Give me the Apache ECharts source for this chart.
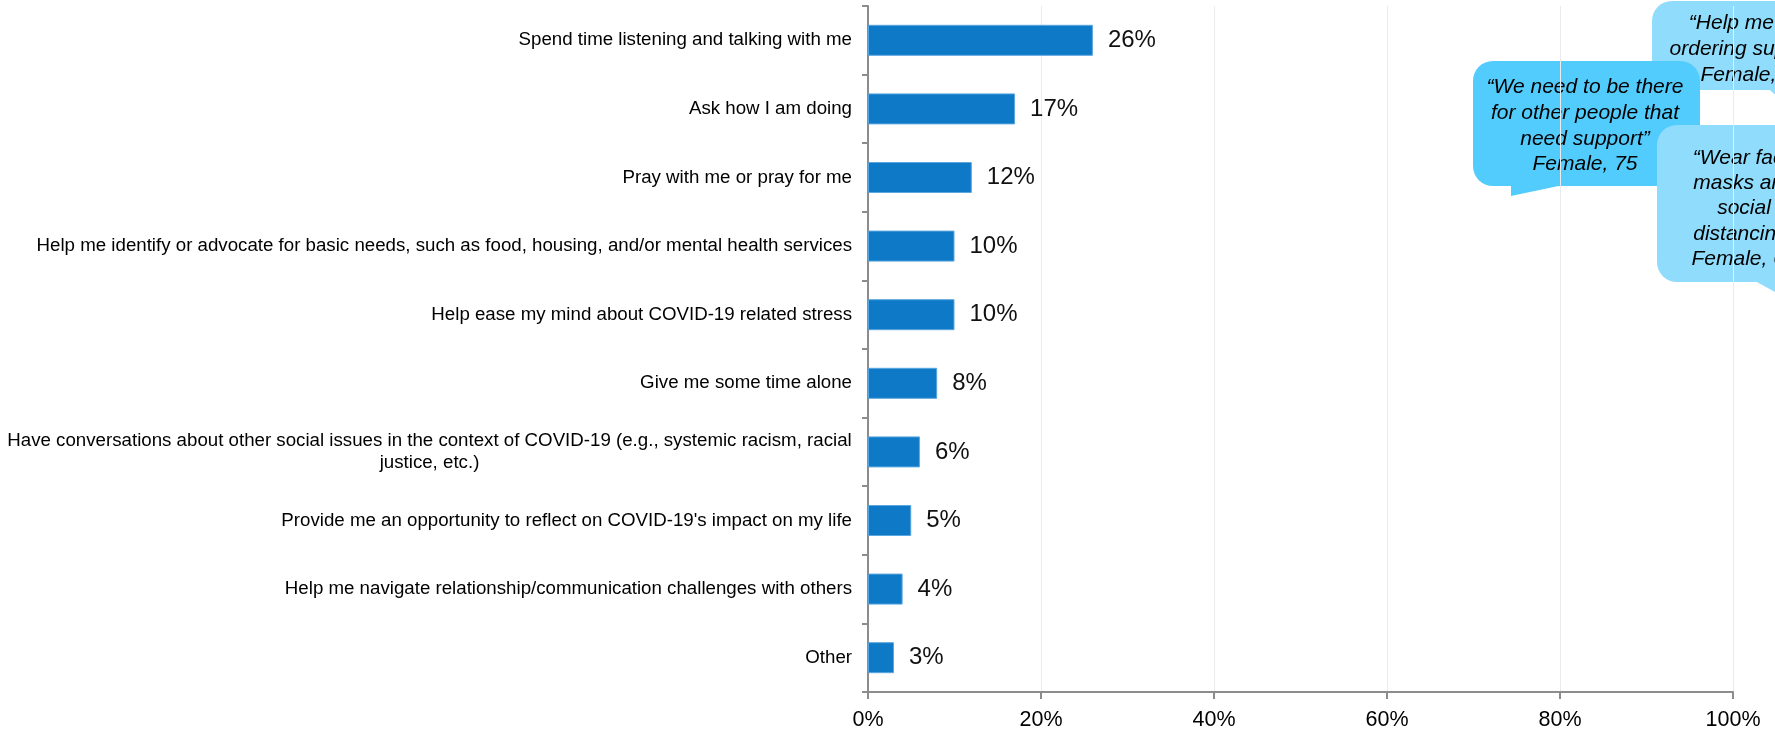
<!DOCTYPE html>
<html>
<head>
<meta charset="utf-8">
<script src="https://cdn.jsdelivr.net/npm/echarts@6/dist/echarts.min.js"></script>
<style>
html,body{margin:0;padding:0;background:#fff;}
#c{width:1775px;height:732px;}
</style>
</head>
<body>
<div id="c"></div>
<script>
const categories = [
  'Spend time listening and talking with me',
  'Ask how I am doing',
  'Pray with me or pray for me',
  'Help me identify or advocate for basic needs, such as food, housing, and/or mental health services',
  'Help ease my mind about COVID-19 related stress',
  'Give me some time alone',
  'Have conversations about other social issues in the context of COVID-19 (e.g., systemic racism, racial\njustice, etc.)',
  'Provide me an opportunity to reflect on COVID-19\'s impact on my life',
  'Help me navigate relationship/communication challenges with others',
  'Other'
];
const values = [26, 17, 12, 10, 10, 8, 6, 5, 4, 3];
const xTicks = [0, 20, 40, 60, 80, 100];

const quote1 = '\u201CHelp me with\nordering supplies\u201D\nFemale, 70';
const quote2 = '\u201CWe need to be there\nfor other people that\nneed support\u201D\nFemale, 75';
const quote3 = '\u201CWear face\nmasks and\nsocial\ndistancing\u201D\nFemale, 65';

const FONT = '"Liberation Sans", Arial, sans-serif';
const chart = echarts.init(document.getElementById('c'));

function bubble(rect, tail, color, text, cx, cy, lh) {
  return {
    type: 'group',
    children: [
      { type: 'rect', shape: { x: rect[0], y: rect[1], width: rect[2], height: rect[3], r: 20 }, style: { fill: color } },
      { type: 'polygon', shape: { points: tail }, style: { fill: color } },
      { type: 'text', x: cx, y: cy, style: {
          text: text, fill: '#000', align: 'center', verticalAlign: 'middle',
          textAlign: 'center', textVerticalAlign: 'middle',
          fontSize: 21, fontStyle: 'italic', fontFamily: FONT, lineHeight: lh } }
    ]
  };
}

chart.setOption({
  animation: false,
  grid: { left: 868, right: 42, top: 6, bottom: 40, containLabel: false, outerBoundsMode: 'none' },
  xAxis: {
    type: 'value', min: 0, max: 100, interval: 20,
    axisLine: { show: true, lineStyle: { color: '#8c8c8c', width: 2 } },
    axisTick: { show: true, length: 7, lineStyle: { color: '#8c8c8c', width: 2 } },
    splitLine: { show: true, lineStyle: { color: '#ebebeb', width: 1 } },
    axisLabel: { formatter: v => xTicks.includes(v) ? v + '%' : '', fontSize: 21.5, color: '#000', fontFamily: FONT, margin: 17 }
  },
  yAxis: {
    type: 'category', data: categories, inverse: true,
    axisLine: { show: true, lineStyle: { color: '#8c8c8c', width: 2 } },
    axisTick: { show: true, length: 6, alignWithLabel: false, lineStyle: { color: '#8c8c8c', width: 2 } },
    splitLine: { show: false },
    axisLabel: {
      fontSize: 18.7, color: '#000', fontFamily: FONT, margin: 16, lineHeight: 22,
      formatter: function (v) {
        if (v.indexOf('\n') >= 0) {
          return v.split('\n').map(s => '{c|' + s + '}').join('\n');
        }
        return v;
      },
      rich: { c: { width: 845, align: 'center', fontSize: 18.7, fontFamily: FONT, color: '#000', lineHeight: 22 } }
    }
  },
  series: [{
    type: 'bar', data: values, barWidth: 31,
    itemStyle: { color: '#0E79C7', borderColor: '#5aa6de', borderWidth: 1 },
    label: { show: true, position: 'right', distance: 15, formatter: '{c}%', fontSize: 24, color: '#111', fontFamily: FONT }
  }],
  graphic: [
    bubble([1652, 1, 202, 89], [[1764, 85], [1810, 85], [1795, 112]], '#8FDCFC', quote1, 1753, 49, 26),
    bubble([1473, 61, 227, 125], [[1511, 180], [1511, 196], [1568, 184], [1568, 180]], '#52CCFD', quote2, 1585, 126, 25.7),
    bubble([1657, 125, 174, 157], [[1755, 276], [1755, 281], [1820, 317], [1820, 276]], '#8FDCFC', quote3, 1744, 208.5, 25.2)
  ]
});
</script>
</body>
</html>
